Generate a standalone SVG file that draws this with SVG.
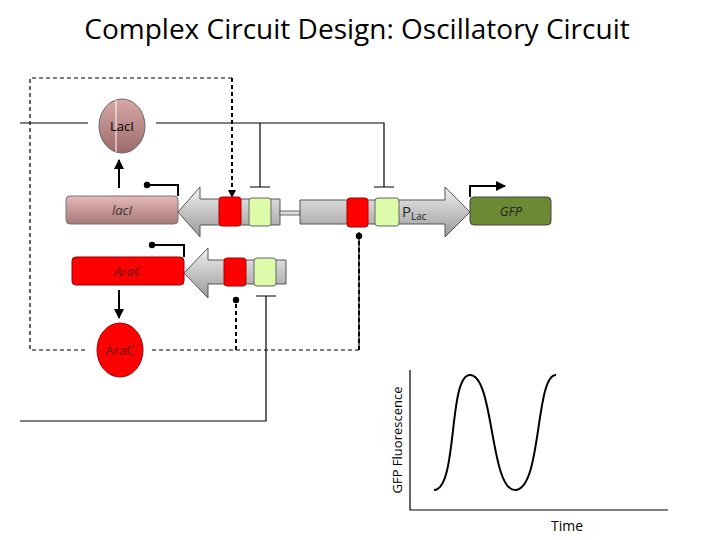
<svg xmlns="http://www.w3.org/2000/svg" width="720" height="540" viewBox="0 0 720 540">
<defs>
<linearGradient id="gray" x1="0" y1="0" x2="0" y2="1"><stop offset="0" stop-color="#f0f0f0"/><stop offset="1" stop-color="#999"/></linearGradient>
<linearGradient id="brown" x1="0" y1="0" x2="0" y2="1"><stop offset="0" stop-color="#e6b8b8"/><stop offset="1" stop-color="#a87878"/></linearGradient>
<linearGradient id="brownE" x1="0" y1="0" x2="0" y2="1"><stop offset="0" stop-color="#d8a8a8"/><stop offset="1" stop-color="#9c6a6a"/></linearGradient>
<marker id="ah" viewBox="0 0 10 10" refX="9" refY="5" markerWidth="5" markerHeight="5" orient="auto"><path d="M0,0L10,5L0,10z" fill="#000"/></marker>
<marker id="dot" viewBox="0 0 10 10" refX="5" refY="5" markerWidth="4" markerHeight="4"><circle cx="5" cy="5" r="4" fill="#000"/></marker>
</defs>
<style>
.t{font-family:"Open Sans","Liberation Sans",sans-serif}
.ln{stroke:#000;stroke-width:1.2;fill:none}
.dash{stroke:#000;stroke-width:1.2;fill:none;stroke-dasharray:4,3}
.dash2{stroke:#000;stroke-width:2;fill:none;stroke-dasharray:4,3}
.pr{stroke:#000;stroke-width:2;fill:none}
.red{fill:#ff0000;stroke:#a00;stroke-width:1}
.grn{fill:#ddfcaa;stroke:#666;stroke-width:1}
.arr{fill:url(#gray);stroke:#555;stroke-width:1}
</style>
<text class="t" x="357" y="39" font-size="28" text-anchor="middle">Complex Circuit Design: Oscillatory Circuit</text>

<g id="connectors">
<path class="ln" d="M20,123H88M156,123H384V187M260,123V187M250,187H270M374,187H394"/>
<path class="dash" d="M232,78H30V350H88M152,350H359V232"/>
<path class="dash2" d="M232,78V192"/>
<path d="M228,190L232,198L236,190z"/>
<path class="dash2" d="M236,350V300" marker-end="url(#dot)"/>
<path class="dash2" d="M359,350V236" marker-end="url(#dot)"/>
<path class="ln" d="M20,421H266V296M256,296H276"/>
<path class="pr" d="M119,188V160" marker-end="url(#ah)"/>
<path class="pr" d="M119,290V318" marker-end="url(#ah)"/>
<path class="pr" d="M178,196V185H147" marker-end="url(#dot)"/>
<path class="pr" d="M184,257V245H152" marker-end="url(#dot)"/>
<path class="pr" d="M470,197V186H505" marker-end="url(#ah)"/>
</g>

<g id="LacI-protein">
<ellipse cx="122" cy="126" rx="23" ry="27" fill="url(#brownE)" stroke="#666"/>
<line x1="116" y1="100" x2="116" y2="152" stroke="#fff" stroke-width="1"/>
<text class="t" x="122" y="131" font-size="13" text-anchor="middle">LacI</text>
</g>
<g id="AraC-protein">
<ellipse cx="120" cy="350" rx="23" ry="27" fill="#ff0000" stroke="#900"/>
<text class="t" x="120" y="355" font-size="13" text-anchor="middle" fill="#600">AraC</text>
</g>

<g id="laci-gene">
<rect x="66" y="196" width="112" height="28" rx="4" fill="url(#brown)" stroke="#777"/>
<text class="t" x="122" y="215" font-size="13" font-style="italic" text-anchor="middle" fill="#333">lacI</text>
</g>
<g id="laci-promoter">
<path class="arr" d="M178,212L200,187V199H280V225H200V237z"/>
<rect class="red" x="219" y="197" width="22" height="29" rx="3"/>
<rect class="grn" x="249" y="198" width="22" height="28" rx="3"/>
<rect x="280" y="211" width="20" height="4" fill="#ddd" stroke="#666"/>
</g>
<g id="plac-promoter">
<path class="arr" d="M300,200H445V187L470,212L445,237V224H300z"/>
<rect class="red" x="347" y="198" width="21" height="29" rx="3"/>
<rect class="grn" x="375" y="198" width="24" height="28" rx="3"/>
<text class="t" x="402" y="217" font-size="15" fill="#222">P<tspan font-size="10" dy="3">Lac</tspan></text>
</g>
<g id="gfp-gene">
<rect x="470" y="197" width="81" height="28" rx="4" fill="#6b8a33" stroke="#444"/>
<text class="t" x="511" y="216" font-size="13" font-style="italic" text-anchor="middle" fill="#222">GFP</text>
</g>
<g id="arac-gene">
<rect x="72" y="257" width="112" height="28" rx="4" fill="#ff0000" stroke="#900"/>
<text class="t" x="128" y="276" font-size="13" font-style="italic" text-anchor="middle" fill="#600">AraC</text>
</g>
<g id="arac-promoter">
<path class="arr" d="M184,273L208,248V260H286V284H208V298z"/>
<rect class="red" x="224" y="258" width="22" height="28" rx="3"/>
<rect class="grn" x="254" y="258" width="22" height="28" rx="3"/>
</g>

<g id="graph">
<path class="ln" d="M410,370V510H668"/>
<path d="M434,490C458,490 448,375 470,375C494,375 490,490 515,490C542,490 535,375 556,375" fill="none" stroke="#000" stroke-width="2"/>
<text class="t" x="402" y="440" font-size="13" text-anchor="middle" transform="rotate(-90 402 440)">GFP Fluorescence</text>
<text class="t" x="567" y="531" font-size="14" text-anchor="middle">Time</text>
</g>
</svg>
